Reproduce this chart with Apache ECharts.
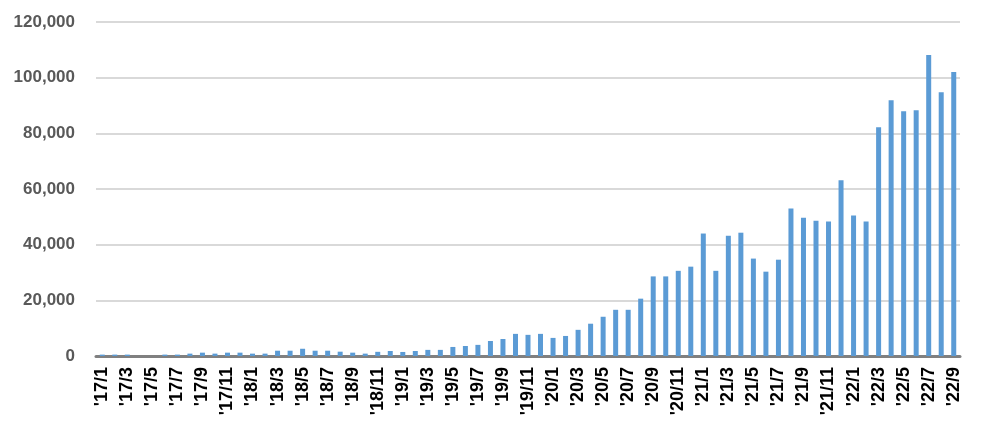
<!DOCTYPE html>
<html><head><meta charset="utf-8">
<script src="https://cdn.jsdelivr.net/npm/echarts@6/dist/echarts.min.js"></script>
<style>html,body{margin:0;padding:0;background:#fff}#c{width:983px;height:433px}</style>
</head><body><div id="c"></div>
<script>
const years = ['17','18','19','20','21','22'];
const categories = [];
years.forEach(y => { for (let m = 1; m <= 12; m++) { if (y === '22' && m > 9) break; categories.push("'" + y + '/' + m); } });
const values = [
  500, 500, 500, 0, 0, 500, 500, 850, 1200, 850, 1200, 1200,
  850, 850, 1900, 1900, 2600, 1900, 1900, 1550, 1200, 850, 1500, 1800,
  1450, 1800, 2200, 2200, 3250, 3600, 4000, 5400, 6100, 7950, 7600, 7950,
  6500, 7200, 9400, 11600, 14100, 16600, 16600, 20600, 28600, 28600, 30600, 32100,
  44000, 30600, 43200, 44300, 35000, 30300, 34600, 53000, 49700, 48600, 48300, 63100,
  50500, 48300, 82200, 91900, 87900, 88300, 108100, 94800, 102000
];
const yTicks = [0, 20000, 40000, 60000, 80000, 100000, 120000];

const chart = echarts.init(document.getElementById('c'), null, {renderer: 'canvas'});
chart.setOption({
  animation: false,
  grid: {left: 96, right: 23, top: 22, bottom: 77},
  xAxis: {
    type: 'category',
    data: categories,
    axisLine: {lineStyle: {color: '#808080', width: 3}},
    axisTick: {show: false},
    axisLabel: {
      interval: 1, rotate: 90, margin: 11,
      color: '#000', fontSize: 18, fontWeight: 'bold',
      fontFamily: 'Liberation Sans, Arial, sans-serif'
    }
  },
  yAxis: {
    type: 'value',
    min: yTicks[0], max: yTicks[yTicks.length - 1], interval: 20000,
    axisLine: {show: false},
    axisTick: {show: false},
    splitLine: {lineStyle: {color: '#d9d9d9', width: 2}},
    axisLabel: {
      margin: 21,
      color: '#595959', fontSize: 17, fontWeight: 'bold',
      fontFamily: 'Liberation Sans, Arial, sans-serif',
      formatter: v => v.toLocaleString('en-US')
    }
  },
  series: [{
    type: 'bar',
    data: values,
    barWidth: 5,
    itemStyle: {color: '#5b9bd5'}
  }]
});
</script>
</body></html>
